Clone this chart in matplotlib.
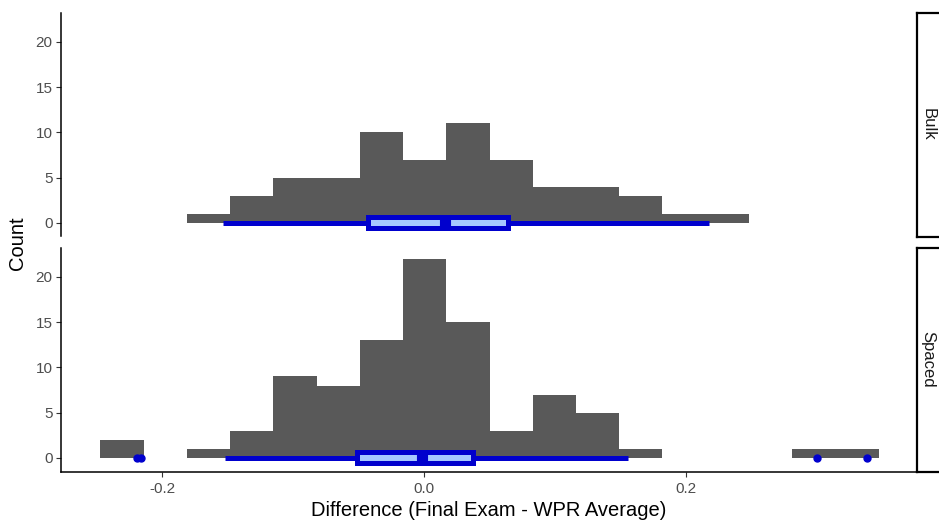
import numpy as np
import matplotlib
matplotlib.use("Agg")
import matplotlib.pyplot as plt

plt.rcParams['font.family'] = ['Liberation Sans', 'DejaVu Sans']

# ---- data ----
bin_start = -0.247
bin_width = 0.033
bulk_counts = [0, 0, 1, 3, 5, 5, 10, 7, 11, 7, 4, 4, 3, 1, 1, 0, 0, 0]
spaced_counts = [2, 0, 1, 3, 9, 8, 13, 22, 15, 3, 7, 5, 1, 0, 0, 0, 1, 1]

# boxplot stats (horizontal boxplot drawn at Count = 0)
bulk_box = dict(whislo=-0.1537, q1=-0.0430, med=0.0162, q3=0.0644, whishi=0.2178)
bulk_outliers = []
spaced_box = dict(whislo=-0.1519, q1=-0.0509, med=-0.0017, q3=0.0372, whishi=0.1560)
spaced_outliers = [-0.2190, -0.2160, 0.2998, 0.3380]

facets = ["Bulk", "Spaced"]
x_ticks = [-0.2, 0.0, 0.2]
x_tick_labels = ["-0.2", "0.0", "0.2"]
y_ticks = [0, 5, 10, 15, 20]
y_tick_labels = ["0", "5", "10", "15", "20"]
x_label = "Difference (Final Exam - WPR Average)"
y_label = "Count"

# ---- layout ----
W, H = 939, 524
fig = plt.figure(figsize=(W / 100, H / 100), dpi=100)
fig.patch.set_facecolor("white")

left_px, right_px = 61, 917
panels_px = [(13, 236.5), (248, 471.5)]
strip_w_px = 25

xlim = (-0.2771, 0.3763)
ylim = (-1.5, 23.2)

data = [(bulk_counts, bulk_box, bulk_outliers), (spaced_counts, spaced_box, spaced_outliers)]
edges = bin_start + bin_width * np.arange(len(bulk_counts))

for i, ((top, bot), (counts, box, outl)) in enumerate(zip(panels_px, data)):
    ax = fig.add_axes([left_px / W, 1 - bot / H, (right_px - left_px) / W, (bot - top) / H])
    ax.bar(edges, counts, width=bin_width, align="edge", color="#595959", linewidth=0, zorder=2)
    stats = dict(box)
    stats["fliers"] = outl
    ax.bxp([stats], positions=[0], widths=1.2, vert=False, showcaps=False,
           patch_artist=True,
           boxprops=dict(facecolor="#a6c8ff", edgecolor="#0000cd", linewidth=3.6),
           whiskerprops=dict(color="#0000cd", linewidth=3.6, solid_capstyle="butt"),
           medianprops=dict(color="#0000cd", linewidth=8.0, solid_capstyle="butt"),
           flierprops=dict(marker="o", markerfacecolor="#0000cd", markeredgecolor="#0000cd",
                           markersize=5, linestyle="none"),
           zorder=3)
    ax.set_xlim(*xlim)
    ax.set_ylim(*ylim)
    ax.set_yticks(y_ticks)
    ax.set_yticklabels(y_tick_labels)
    for s in ["top", "right"]:
        ax.spines[s].set_visible(False)
    ax.spines["left"].set_linewidth(1.1)
    ax.spines["left"].set_color("black")
    ax.tick_params(axis="both", direction="out", length=3.5, width=0.8, color="#333333",
                   labelcolor="#4D4D4D", labelsize=11, pad=2.5)
    ax.tick_params(axis="x", pad=4)
    if i == 0:
        ax.spines["bottom"].set_visible(False)
        ax.set_xticks([])
    else:
        ax.spines["bottom"].set_linewidth(1.1)
        ax.spines["bottom"].set_color("black")
        ax.set_xticks(x_ticks)
        ax.set_xticklabels(x_tick_labels)
    ax.set_facecolor("white")

    # strip on the right
    sax = fig.add_axes([right_px / W, 1 - bot / H, strip_w_px / W, (bot - top) / H])
    sax.set_xticks([]); sax.set_yticks([])
    for s in sax.spines.values():
        s.set_linewidth(1.6)
        s.set_color("black")
    sax.set_facecolor("white")
    sax.text(0.44, 0.5, facets[i], rotation=-90, ha="center", va="center",
             fontsize=12, color="#1A1A1A", transform=sax.transAxes)

fig.text((left_px + right_px) / 2 / W, 1 - 511 / H, x_label, ha="center", va="center",
         fontsize=14.5, color="black")
fig.text(18 / W, 1 - 243 / H, y_label, ha="center", va="center", rotation=90,
         fontsize=14.5, color="black")

fig.savefig("out.png", dpi=100)
